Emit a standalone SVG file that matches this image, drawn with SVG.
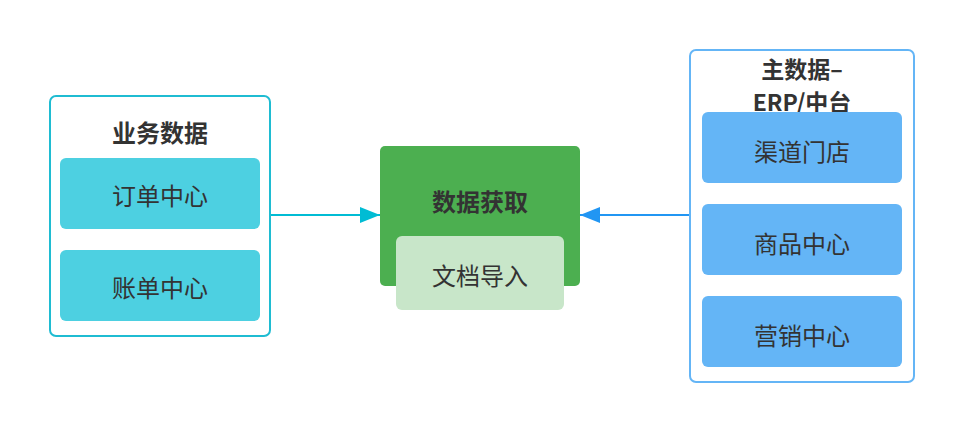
<svg xmlns="http://www.w3.org/2000/svg" width="964" height="432" viewBox="0 0 964 432">
<defs>
<style>
text{font-family:"Noto Sans CJK SC","Noto Sans",sans-serif;font-size:24px;fill:#333;text-anchor:middle;dominant-baseline:central}
.b{font-weight:bold}
.t{font-size:23px}
</style>
<marker id="ac" viewBox="0 0 20 16" refX="20" refY="8" markerWidth="20" markerHeight="16" markerUnits="userSpaceOnUse" orient="auto"><path d="M0,0L20,8L0,16z" fill="#00bcd4"/></marker>
<marker id="ab" viewBox="0 0 20 16" refX="20" refY="8" markerWidth="20" markerHeight="16" markerUnits="userSpaceOnUse" orient="auto"><path d="M0,0L20,8L0,16z" fill="#2196f3"/></marker>
</defs>
<rect width="964" height="432" fill="#fff"/>
<g id="connectors">
<path d="M271,215H380" stroke="#00bcd4" stroke-width="2" fill="none" marker-end="url(#ac)"/>
<path d="M689,215H580" stroke="#2196f3" stroke-width="2" fill="none" marker-end="url(#ab)"/>
</g>
<g id="business">
<rect x="50" y="96" width="220" height="240" rx="6" fill="#fff" stroke="#1fbcd2" stroke-width="2"/>
<text class="b" x="160" y="131">业务数据</text>
</g>
<g id="order"><rect x="60" y="158" width="200" height="71" rx="6" fill="#4dd0e1"/><text x="160" y="194">订单中心</text></g>
<g id="bill"><rect x="60" y="250" width="200" height="71" rx="6" fill="#4dd0e1"/><text x="160" y="286">账单中心</text></g>
<g id="fetch">
<rect x="380" y="146" width="200" height="140" rx="5" fill="#4caf50"/>
<text class="b" x="480" y="200">数据获取</text>
</g>
<g id="import"><rect x="396" y="236" width="168" height="74" rx="6" fill="#c8e6c9"/><text x="480" y="274">文档导入</text></g>
<g id="master">
<rect x="690" y="50" width="224" height="332" rx="6" fill="#fff" stroke="#64b5f6" stroke-width="2"/>
<text class="b t" x="802" y="68">主数据–</text>
<text class="b t" x="802" y="101">ERP/中台</text>
</g>
<g id="channel"><rect x="702" y="112" width="200" height="71" rx="6" fill="#64b5f6"/><text x="802" y="150">渠道门店</text></g>
<g id="goods"><rect x="702" y="204" width="200" height="71" rx="6" fill="#64b5f6"/><text x="802" y="242">商品中心</text></g>
<g id="marketing"><rect x="702" y="296" width="200" height="71" rx="6" fill="#64b5f6"/><text x="802" y="334">营销中心</text></g>
</svg>
